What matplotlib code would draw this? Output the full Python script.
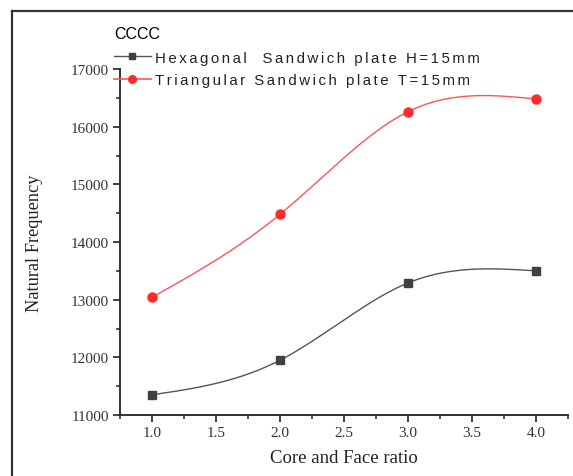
import numpy as np
import matplotlib.pyplot as plt
from matplotlib.lines import Line2D

ratio = [1.0, 2.0, 3.0, 4.0]
hexagonal = [11350, 11950, 13290, 13500]
triangular = [13040, 14480, 16260, 16480]
series_names = ['Hexagonal  Sandwich plate H=15mm',
                'Triangular Sandwich plate T=15mm']


def natural_spline(x, y, n=200):
    # natural cubic spline through the points, for a smooth connecting line
    x = np.asarray(x, float)
    y = np.asarray(y, float)
    k = len(x)
    h = np.diff(x)
    A = np.zeros((k, k))
    b = np.zeros(k)
    A[0, 0] = A[-1, -1] = 1
    for i in range(1, k - 1):
        A[i, i - 1] = h[i - 1]
        A[i, i] = 2 * (h[i - 1] + h[i])
        A[i, i + 1] = h[i]
        b[i] = 6 * ((y[i + 1] - y[i]) / h[i] - (y[i] - y[i - 1]) / h[i - 1])
    M = np.linalg.solve(A, b)
    xs = np.linspace(x[0], x[-1], n)
    idx = np.clip(np.searchsorted(x, xs) - 1, 0, k - 2)
    x0, x1 = x[idx], x[idx + 1]
    hh = x1 - x0
    t0 = x1 - xs
    t1 = xs - x0
    ys = (M[idx] * t0**3 / (6 * hh) + M[idx + 1] * t1**3 / (6 * hh)
          + (y[idx] / hh - M[idx] * hh / 6) * t0
          + (y[idx + 1] / hh - M[idx + 1] * hh / 6) * t1)
    return xs, ys


def spaced(s):
    # loose letter spacing for the legend text
    return '\u2006'.join(s)


fig = plt.figure(figsize=(5.73, 4.77), dpi=100)
ax = fig.add_axes([120 / 573, 1 - 416 / 477, 448 / 573, 346 / 477])

black_line = '#555555'
black_mark = '#404040'
red_line = '#ff5555'
red_mark = '#ff2a2a'

xs, ys = natural_spline(ratio, hexagonal)
ax.plot(xs, ys, color=black_line, lw=1)
ax.plot(ratio, hexagonal, 's', color=black_mark, ms=6, zorder=3)
xs, ys = natural_spline(ratio, triangular)
ax.plot(xs, ys, color=red_line, lw=1)
ax.plot(ratio, triangular, 'o', color=red_mark, ms=6.5, zorder=3)

ax.set_xlim(0.75, 4.25)
ax.set_ylim(11000, 17000)
ax.set_xticks([1.0, 1.5, 2.0, 2.5, 3.0, 3.5, 4.0])
ax.set_xticks(np.arange(0.75, 4.3, 0.25), minor=True)
ax.set_yticks(np.arange(11000, 17001, 1000))
ax.set_yticks(np.arange(11000, 17001, 500), minor=True)
ax.spines['top'].set_visible(False)
ax.spines['right'].set_visible(False)
for s in ['left', 'bottom']:
    ax.spines[s].set_linewidth(1.3)
    ax.spines[s].set_color('#222222')
ax.tick_params(which='major', length=5, width=1.2, color='#222222',
               labelsize=11, labelcolor='#333333', pad=3)
ax.tick_params(which='minor', length=3, width=1.1, color='#222222')
for lab in ax.get_xticklabels() + ax.get_yticklabels():
    lab.set_family('Liberation Serif')

ax.set_xlabel('Core and Face ratio', family='Liberation Serif', fontsize=13.5,
              color='#222222', labelpad=7)
ax.set_ylabel('Natural Frequency', family='Liberation Serif', fontsize=13.2,
              color='#222222', labelpad=20)

handles = [
    Line2D([], [], color=black_line, lw=1, marker='s', ms=5,
           mfc=black_mark, mec=black_mark),
    Line2D([], [], color=red_line, lw=1.2, marker='o', ms=5.5,
           mfc=red_mark, mec=red_mark),
]
leg = ax.legend(handles, [spaced(n) for n in series_names],
                title='CCCC', loc='upper left', bbox_to_anchor=(-0.027, 1.142),
                frameon=False, numpoints=1, handlelength=2.45,
                handletextpad=0.3, labelspacing=0.58, borderaxespad=0,
                prop={'family': ['Liberation Sans', 'DejaVu Sans'], 'size': 10.8})
leg.get_title().set_family('Liberation Sans')
leg.get_title().set_fontsize(11.5)
leg._legend_box.align = 'left'
leg._legend_box.sep = 7
for t in leg.get_texts():
    t.set_color('#222222')

# outer frame lines along the top and left
fig.add_artist(Line2D([12 / 573, 1], [1 - 12 / 477] * 2,
                      transform=fig.transFigure, color='#333333', lw=1.6))
fig.add_artist(Line2D([12 / 573] * 2, [1 - 12 / 477, 0],
                      transform=fig.transFigure, color='#333333', lw=1.6))

fig.savefig('out.png', dpi=100)
